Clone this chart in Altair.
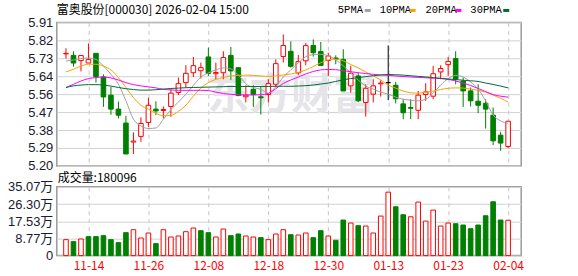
import altair as alt
import numpy as np
import pandas as pd

title_text = "富奥股份[000030] 2026-02-04 15:00"
volume_title = "成交量:180096"
watermark = "东方财富"

dates = ["11-11", "11-12", "11-13", "11-14", "11-17", "11-18", "11-19", "11-20", "11-21", "11-24",
         "11-25", "11-26", "11-27", "11-28", "12-01", "12-02", "12-03", "12-04", "12-05", "12-08",
         "12-09", "12-10", "12-11", "12-12", "12-15", "12-16", "12-17", "12-18", "12-19", "12-22",
         "12-23", "12-24", "12-25", "12-26", "12-29", "12-30", "12-31", "01-05", "01-06", "01-07",
         "01-08", "01-09", "01-12", "01-13", "01-14", "01-15", "01-16", "01-19", "01-20", "01-21",
         "01-22", "01-23", "01-26", "01-27", "01-28", "01-29", "01-30", "02-02", "02-03", "02-04"]
date_ticks = ["11-14", "11-26", "12-08", "12-18", "12-30", "01-13", "01-23", "02-04"]

open_ = [5.754, 5.747, 5.721, 5.709, 5.757, 5.640, 5.550, 5.481, 5.412, 5.318,
         5.346, 5.415, 5.481, 5.474, 5.494, 5.563, 5.612, 5.661, 5.671, 5.739,
         5.656, 5.661, 5.747, 5.686, 5.542, 5.579, 5.542, 5.553, 5.604, 5.741,
         5.767, 5.660, 5.720, 5.796, 5.766, 5.722, 5.734, 5.727, 5.596, 5.645,
         5.514, 5.555, 5.606, 5.612, 5.599, 5.507, 5.489, 5.475, 5.553, 5.545,
         5.665, 5.701, 5.731, 5.620, 5.571, 5.520, 5.510, 5.451, 5.352, 5.296]
high = [5.782, 5.767, 5.748, 5.806, 5.757, 5.653, 5.591, 5.518, 5.448, 5.366,
        5.440, 5.537, 5.520, 5.494, 5.579, 5.637, 5.698, 5.739, 5.711, 5.785,
        5.711, 5.767, 5.788, 5.686, 5.599, 5.599, 5.596, 5.629, 5.727, 5.850,
        5.816, 5.749, 5.808, 5.826, 5.813, 5.760, 5.747, 5.777, 5.695, 5.661,
        5.604, 5.629, 5.624, 5.796, 5.616, 5.530, 5.530, 5.571, 5.609, 5.695,
        5.698, 5.739, 5.767, 5.637, 5.588, 5.604, 5.530, 5.489, 5.369, 5.421]
low = [5.731, 5.691, 5.668, 5.709, 5.612, 5.492, 5.453, 5.435, 5.259, 5.259,
       5.319, 5.393, 5.451, 5.436, 5.443, 5.550, 5.588, 5.640, 5.632, 5.645,
       5.629, 5.629, 5.626, 5.545, 5.514, 5.492, 5.454, 5.514, 5.588, 5.712,
       5.686, 5.650, 5.698, 5.741, 5.695, 5.645, 5.703, 5.571, 5.563, 5.515,
       5.444, 5.514, 5.543, 5.525, 5.509, 5.431, 5.431, 5.431, 5.522, 5.530,
       5.629, 5.645, 5.604, 5.492, 5.494, 5.461, 5.385, 5.303, 5.275, 5.287]
close = [5.757, 5.709, 5.746, 5.727, 5.642, 5.541, 5.481, 5.451, 5.259, 5.323,
         5.410, 5.500, 5.472, 5.479, 5.560, 5.607, 5.658, 5.696, 5.686, 5.658,
         5.662, 5.736, 5.670, 5.548, 5.550, 5.553, 5.537, 5.607, 5.706, 5.796,
         5.693, 5.716, 5.795, 5.760, 5.697, 5.744, 5.729, 5.571, 5.658, 5.522,
         5.584, 5.596, 5.610, 5.612, 5.532, 5.463, 5.485, 5.550, 5.566, 5.656,
         5.682, 5.717, 5.629, 5.571, 5.522, 5.500, 5.481, 5.324, 5.313, 5.421]

ma5 = [5.719, 5.724, 5.731, 5.734, 5.727, 5.694, 5.653, 5.604, 5.522, 5.431,
       5.398, 5.385, 5.388, 5.431, 5.478, 5.516, 5.555, 5.598, 5.640, 5.660,
       5.675, 5.685, 5.680, 5.650, 5.606, 5.588, 5.579, 5.560, 5.592, 5.640,
       5.675, 5.710, 5.740, 5.750, 5.752, 5.745, 5.725, 5.695, 5.660, 5.625,
       5.595, 5.580, 5.565, 5.555, 5.540, 5.530, 5.525, 5.522, 5.530, 5.560,
       5.600, 5.632, 5.648, 5.640, 5.615, 5.580, 5.522, 5.452, 5.423, 5.410]
ma10 = [5.665, 5.678, 5.694, 5.703, 5.703, 5.694, 5.675, 5.637, 5.588, 5.538,
        5.500, 5.481, 5.460, 5.448, 5.450, 5.470, 5.500, 5.545, 5.585, 5.612,
        5.628, 5.638, 5.645, 5.648, 5.649, 5.648, 5.645, 5.643, 5.645, 5.650,
        5.655, 5.662, 5.675, 5.692, 5.710, 5.725, 5.728, 5.720, 5.702, 5.685,
        5.665, 5.645, 5.625, 5.600, 5.585, 5.570, 5.562, 5.560, 5.565, 5.570,
        5.578, 5.584, 5.586, 5.585, 5.580, 5.574, 5.565, 5.550, 5.535, 5.515]
ma20 = [5.588, 5.604, 5.620, 5.632, 5.637, 5.640, 5.635, 5.625, 5.612, 5.602,
        5.596, 5.591, 5.586, 5.579, 5.576, 5.574, 5.574, 5.574, 5.574, 5.573,
        5.565, 5.558, 5.554, 5.552, 5.551, 5.551, 5.552, 5.558, 5.582, 5.608,
        5.625, 5.640, 5.655, 5.667, 5.675, 5.677, 5.676, 5.671, 5.666, 5.661,
        5.657, 5.653, 5.650, 5.648, 5.645, 5.642, 5.640, 5.638, 5.636, 5.634,
        5.632, 5.628, 5.620, 5.610, 5.598, 5.583, 5.568, 5.553, 5.545, 5.540]
ma30 = [5.588, 5.596, 5.600, 5.602, 5.602, 5.600, 5.595, 5.588, 5.582, 5.578,
        5.575, 5.575, 5.577, 5.580, 5.583, 5.585, 5.587, 5.588, 5.589, 5.590,
        5.591, 5.592, 5.593, 5.593, 5.593, 5.593, 5.593, 5.593, 5.594, 5.594,
        5.594, 5.595, 5.597, 5.600, 5.605, 5.610, 5.618, 5.626, 5.632, 5.637,
        5.642, 5.646, 5.650, 5.652, 5.651, 5.649, 5.646, 5.643, 5.640, 5.637,
        5.633, 5.630, 5.627, 5.624, 5.621, 5.618, 5.610, 5.603, 5.595, 5.586]

# volume in 万 (10k)
volume = [8.13, 7.12, 8.47, 9.66, 9.66, 10.17, 8.13, 6.61, 11.69, 13.21,
          8.98, 11.52, 6.10, 13.21, 9.49, 10.00, 12.20, 14.06, 12.70, 11.69,
          9.49, 13.55, 10.17, 11.01, 10.00, 9.49, 9.15, 8.13, 11.01, 13.21,
          10.67, 10.50, 11.52, 9.15, 12.70, 10.00, 7.79, 18.13, 16.60, 15.25,
          15.08, 11.52, 20.16, 32.36, 24.90, 20.84, 19.80, 27.30, 17.60, 23.20,
          15.08, 16.60, 16.26, 15.59, 13.72, 15.59, 20.33, 27.45, 18.13, 18.01]
vol_dir = ["up", "down", "up", "down", "down", "down", "down", "down", "down", "up",
           "up", "up", "down", "up", "up", "up", "up", "up", "down", "down",
           "up", "up", "down", "down", "up", "up", "down", "up", "up", "up",
           "down", "up", "up", "down", "down", "up", "down", "down", "up", "down",
           "up", "up", "up", "up", "down", "down", "up", "up", "up", "up",
           "up", "up", "down", "down", "down", "down", "down", "down", "down", "up"]

ma_names = ["5PMA", "10PMA", "20PMA", "30PMA"]
price_tick_labels = ["5.20", "5.29", "5.38", "5.47", "5.56", "5.64", "5.73", "5.82", "5.91"]
vol_tick_labels = ["0", "8.77万", "17.53万", "26.30万", "35.07万"]

# ---------------- styles ----------------
ma_colors = ["#a0a0a0", "#f5a300", "#ff00ff", "#006b35"]
RED, GREEN, BLACK = "#ff0000", "#008000", "#000000"
LABEL_COLOR = "#1a1a2e"
CJK = "Noto Sans CJK SC"
NUM_FONT = "Liberation Sans, Noto Sans CJK SC"

W, H_PRICE, H_VOL = 466, 144, 69
PAD_L, PAD_T, PAD_R, PAD_B = 56, 21, 56, 21
p_lo, p_hi = 5.20, 5.91
v_hi = 35.07

# ---------------- data frames ----------------
n = len(dates)
df = pd.DataFrame({"idx": np.arange(n), "date": dates, "open": open_, "high": high,
                   "low": low, "close": close, "volume": volume, "vdir": vol_dir})
df["dir"] = np.where(df["close"] > df["open"], "up",
                     np.where(df["close"] < df["open"], "down", "flat"))

ma_df = pd.concat([
    pd.DataFrame({"idx": np.arange(n), "value": vals, "series": name})
    for name, vals in zip(ma_names, [ma5, ma10, ma20, ma30])
])

date_tick_idx = [dates.index(d) for d in date_ticks]
date_expr = "[" + ",".join("'%s'" % d for d in dates) + "][round(datum.value)]"

p_step = (p_hi - p_lo) / (len(price_tick_labels) - 1)
price_vals = [p_lo + k * p_step for k in range(len(price_tick_labels))]
price_expr = "[" + ",".join("'%s'" % s for s in price_tick_labels) + "]" + \
    "[round((datum.value - %f) / %f)]" % (p_lo, p_step)

v_step = v_hi / (len(vol_tick_labels) - 1)
vol_vals = [k * v_step for k in range(len(vol_tick_labels))]
vol_expr = "[" + ",".join("'%s'" % s for s in vol_tick_labels) + "]" + \
    "[round(datum.value / %f)]" % v_step

x_scale = alt.Scale(domain=[-0.56, 60.08], nice=False, zero=False)
grid_kw = dict(grid=True, gridColor="#c4c4c4", gridDash=[4, 4], gridWidth=1,
               domain=False, ticks=False)
x_axis_price = alt.Axis(values=date_tick_idx, labels=False, title=None, **grid_kw)
x_axis_vol = alt.Axis(values=date_tick_idx, labelExpr=date_expr, title=None,
                      labelColor=RED, labelFont=CJK, labelFontSize=12,
                      labelPadding=5, labelFlush=False, labelOverlap=False, **grid_kw)

p_scale = alt.Scale(domain=[p_lo, p_hi], nice=False, zero=False)
p_axis = alt.Axis(values=price_vals, labelExpr=price_expr, title=None, grid=True,
                  gridColor="#d2d2d2", domain=False, ticks=False, labelPadding=4,
                  labelFont=NUM_FONT, labelFontSize=13, labelColor=LABEL_COLOR,
                  labelFlush=False, labelOverlap=False)

xp = alt.X("idx:Q", scale=x_scale, axis=x_axis_price)
dir_dom = ["up", "down", "flat"]
stroke_sc = alt.Scale(domain=dir_dom, range=[RED, GREEN, BLACK])
fill_sc = alt.Scale(domain=dir_dom, range=["#ffffff", GREEN, BLACK])

base = alt.Chart(df)
one = pd.DataFrame({"a": [0]})

# invisible frame that fixes the canvas bounds (padding around the plot areas)
pad_top = alt.Chart(one).mark_rule(opacity=0).encode(
    x=alt.value(-PAD_L), x2=alt.value(W + PAD_R), y=alt.value(-PAD_T))
pad_bottom = alt.Chart(one).mark_rule(opacity=0).encode(
    x=alt.value(-PAD_L), x2=alt.value(W + PAD_R), y=alt.value(H_VOL + PAD_B))

wm = alt.Chart(pd.DataFrame({"t": [watermark]})).mark_text(
    font=CJK, fontSize=42, fontWeight="bold", color="#e4e4e9", align="center",
    baseline="middle").encode(x=alt.value(235), y=alt.value(74), text="t:N")

wicks = base.mark_rule(strokeWidth=1).encode(
    x=xp,
    y=alt.Y("low:Q", scale=p_scale, axis=p_axis),
    y2="high:Q",
    stroke=alt.Stroke("dir:N", scale=stroke_sc, legend=None),
)
bodies = base.mark_bar(size=4.6, strokeWidth=1).encode(
    x=xp,
    y=alt.Y("open:Q", scale=p_scale, axis=p_axis),
    y2="close:Q",
    fill=alt.Fill("dir:N", scale=fill_sc, legend=None),
    stroke=alt.Stroke("dir:N", scale=stroke_sc, legend=None),
)
lines = alt.Chart(ma_df).mark_line(strokeWidth=1, interpolate="monotone").encode(
    x=xp,
    y=alt.Y("value:Q", scale=p_scale, axis=p_axis),
    color=alt.Color("series:N", scale=alt.Scale(domain=ma_names, range=ma_colors),
                    legend=None),
    detail="series:N",
)

title_mark = alt.Chart(one).mark_text(
    font=CJK, fontSize=12, align="left", baseline="middle", color="#000000"
).encode(x=alt.value(0), y=alt.value(-12.5), text=alt.value(title_text))

legend_layers = []
legend_text_x = [282, 324, 370, 415]
legend_dash_x = [309, 354, 400, 448]
for name, col, tx, dx in zip(ma_names, ma_colors, legend_text_x, legend_dash_x):
    legend_layers.append(alt.Chart(one).mark_text(
        font="Liberation Mono", fontSize=10.5, align="left", baseline="middle",
        color="#000000").encode(x=alt.value(tx), y=alt.value(-12), text=alt.value(name)))
    legend_layers.append(alt.Chart(one).mark_rule(strokeWidth=3, color=col).encode(
        x=alt.value(dx), x2=alt.value(dx + 6), y=alt.value(-12)))

price = alt.layer(pad_top, wm, wicks, bodies, lines, title_mark, *legend_layers).properties(
    width=W, height=H_PRICE)

xv = alt.X("idx:Q", scale=x_scale, axis=x_axis_vol)
v_scale = alt.Scale(domain=[0, v_hi], nice=False, zero=True)
v_axis = alt.Axis(values=vol_vals, labelExpr=vol_expr, title=None, grid=True,
                  gridColor="#d2d2d2", domain=False, ticks=False, labelPadding=4,
                  labelFont=NUM_FONT, labelFontSize=13, labelColor=LABEL_COLOR,
                  labelFlush=False, labelOverlap=False)
vbars = base.mark_bar(size=4.6, strokeWidth=1).encode(
    x=xv,
    y=alt.Y("volume:Q", scale=v_scale, axis=v_axis),
    fill=alt.Fill("vdir:N", scale=alt.Scale(domain=["up", "down"], range=["#ffffff", GREEN]),
                  legend=None),
    stroke=alt.Stroke("vdir:N", scale=alt.Scale(domain=["up", "down"], range=[RED, GREEN]),
                      legend=None),
)
vtitle = alt.Chart(one).mark_text(
    font=CJK, fontSize=12, align="left", baseline="middle", color="#000000"
).encode(x=alt.value(1), y=alt.value(-8.5), text=alt.value(volume_title))

vol = alt.layer(pad_bottom, vbars, vtitle).properties(width=W, height=H_VOL)

chart = alt.vconcat(price, vol, spacing=21, bounds="flush").properties(
    padding=0,
    autosize=alt.AutoSizeParams(type="pad"),
    background="#ffffff",
).configure_view(stroke="#9a9a9a", strokeWidth=1.5)

chart.save("out.html", embed_options={"renderer": "svg", "actions": False})
